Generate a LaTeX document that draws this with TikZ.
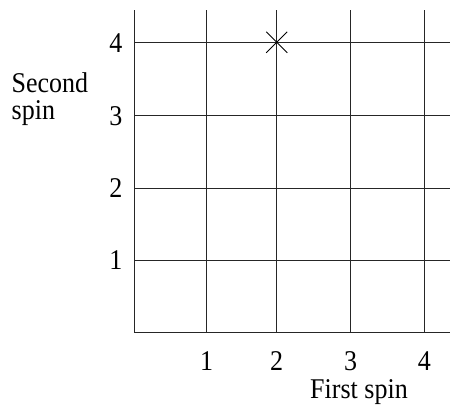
\documentclass[tikz,border=0pt]{standalone}
\usepackage{fontspec}
\setmainfont{Liberation Serif}
\usepackage{tikz}
\usetikzlibrary{calc}
\tikzset{
  gridline/.style={line width=0.9pt, color=black!85},
  lbl/.style={font=\fontsize{26}{25}\selectfont, inner sep=0pt, yscale=1.1, transform shape},
}
\begin{document}
\begin{tikzpicture}[x=1pt, y=1pt]
\useasboundingbox (0,0) rectangle (450,-405);
% axes
\draw [gridline] (134,-10) -- (134,-332.7) -- (450,-332.7);
% vertical lines, first spin
\foreach \xv/\n in {206.7/1, 276.7/2, 350.7/3, 424.3/4} {
  \draw [gridline] (\xv,-10) -- (\xv,-332.7);
  \node [lbl] (x\n) at (\xv,-361) {\n};
}
% horizontal lines, second spin
\foreach \yv/\n in {260/1, 188/2, 115.5/3, 42.3/4} {
  \draw [gridline] (134,-\yv) -- (450,-\yv);
  \node [lbl, anchor=east] (y\n) at (122.5,-\yv-0.5) {\n};
}
\node [lbl, anchor=base] (xlabel) at (359,-398) {First spin};
\node [lbl, anchor=north west, align=left] (ylabel) at (11.5,-72) {Second\\spin};
% marked state
\coordinate (P) at (276.7,-42.3);
\draw [line width=0.9pt] ($(P)+(-10.5,-10.5)$) -- ($(P)+(10.5,10.5)$);
\draw [line width=0.9pt] ($(P)+(-10.5,10.5)$) -- ($(P)+(10.5,-10.5)$);
\end{tikzpicture}
\end{document}
